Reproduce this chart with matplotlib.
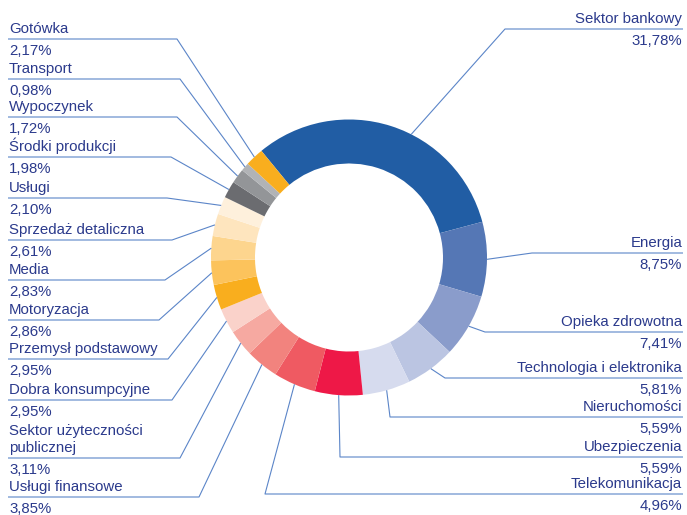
import matplotlib
matplotlib.use("Agg")
import matplotlib.pyplot as plt
import numpy as np

# ---- data ----
categories = ["Sektor bankowy", "Energia", "Opieka zdrowotna", "Technologia i elektronika",
              "Nieruchomości", "Ubezpieczenia", "Telekomunikacja", "Usługi finansowe",
              "Sektor użyteczności\npublicznej", "Dobra konsumpcyjne", "Przemysł podstawowy",
              "Motoryzacja", "Media", "Sprzedaż detaliczna", "Usługi", "Środki produkcji",
              "Wypoczynek", "Transport", "Gotówka"]
values = [31.78, 8.75, 7.41, 5.81, 5.59, 5.59, 4.96, 3.85, 3.11, 2.95, 2.95,
          2.86, 2.83, 2.61, 2.10, 1.98, 1.72, 0.98, 2.17]
pct_labels = ["31,78%", "8,75%", "7,41%", "5,81%", "5,59%", "5,59%", "4,96%", "3,85%",
              "3,11%", "2,95%", "2,95%", "2,86%", "2,83%", "2,61%", "2,10%", "1,98%",
              "1,72%", "0,98%", "2,17%"]

# ---- styles ----
colors = ["#215DA4", "#5577B5", "#8A9CCB", "#BBC5E2", "#D6DBEE", "#EE1847", "#EF5A62",
          "#F2837E", "#F6A9A1", "#FAD2CA", "#F9AE1E", "#FCC35C", "#FDD58E", "#FEE5BE",
          "#FEF0DC", "#6B6C70", "#939598", "#B1B3B6", "#F9AE1E"]
text_color = "#2B3A8C"
line_color = "#5B85C8"

# ---- layout (pixel units, image coords: y down) ----
W, H = 687, 515
cx, cy = 349, 257.5
R, ring_w = 138, 44
start_angle = 129.4
sides = ["R", "R", "R", "R", "R", "R", "R", "L", "L", "L", "L", "L", "L", "L", "L", "L", "L", "L", "L"]
line_y = [29, 253, 332, 378, 417, 457, 494, 497, 458, 400, 359, 320, 280, 240, 198, 157, 117, 79, 39]
line_x = [505, 532, 485, 445, 390, 340, 265, 199, 180, 172, 168, 159, 165, 172, 167, 171, 177, 180, 177]
anchor_shift = [-9, 0, 0, 0, 0, 0, 0, 0, 0, 0, 0, 0, 0, 0, 0, 0, 0, 0, 0]  # degrees
left_x, right_x = 8, 683

fig = plt.figure(figsize=(W / 100, H / 100), dpi=100)
ax = fig.add_axes([0, 0, 1, 1])
ax.pie(values, colors=colors, startangle=start_angle, counterclock=False,
       center=(cx, H - cy), radius=R,
       wedgeprops=dict(width=ring_w, linewidth=0))
ax.set_xlim(0, W)
ax.set_ylim(0, H)
ax.set_aspect("equal")
ax.axis("off")

fnt = dict(family=["Liberation Sans", "DejaVu Sans"], size=10.8, color=text_color)
total = float(np.sum(values))
cum = 0.0
for i, v in enumerate(values):
    mid = start_angle - (cum + v / 2) / total * 360 + anchor_shift[i]
    cum += v
    ax_pt = (cx + R * np.cos(np.radians(mid)), H - cy + R * np.sin(np.radians(mid)))
    ly = H - line_y[i]
    lx = line_x[i]
    if sides[i] == "R":
        xs = [right_x, lx, ax_pt[0]]
        ha, tx = "right", right_x - 1
    else:
        xs = [left_x, lx, ax_pt[0]]
        ha, tx = "left", left_x + 1
    ys = [ly, ly, ax_pt[1]]
    ax.plot(xs, ys, color=line_color, lw=0.8, solid_capstyle="butt", zorder=1)
    parts = categories[i].split("\n")
    for k, part in enumerate(reversed(parts)):
        ax.text(tx, ly + 6 + k * 17, part, ha=ha, va="baseline", **fnt)
    ax.text(tx, ly - 16, pct_labels[i], ha=ha, va="baseline", **fnt)

fig.savefig("out.png", dpi=100)
